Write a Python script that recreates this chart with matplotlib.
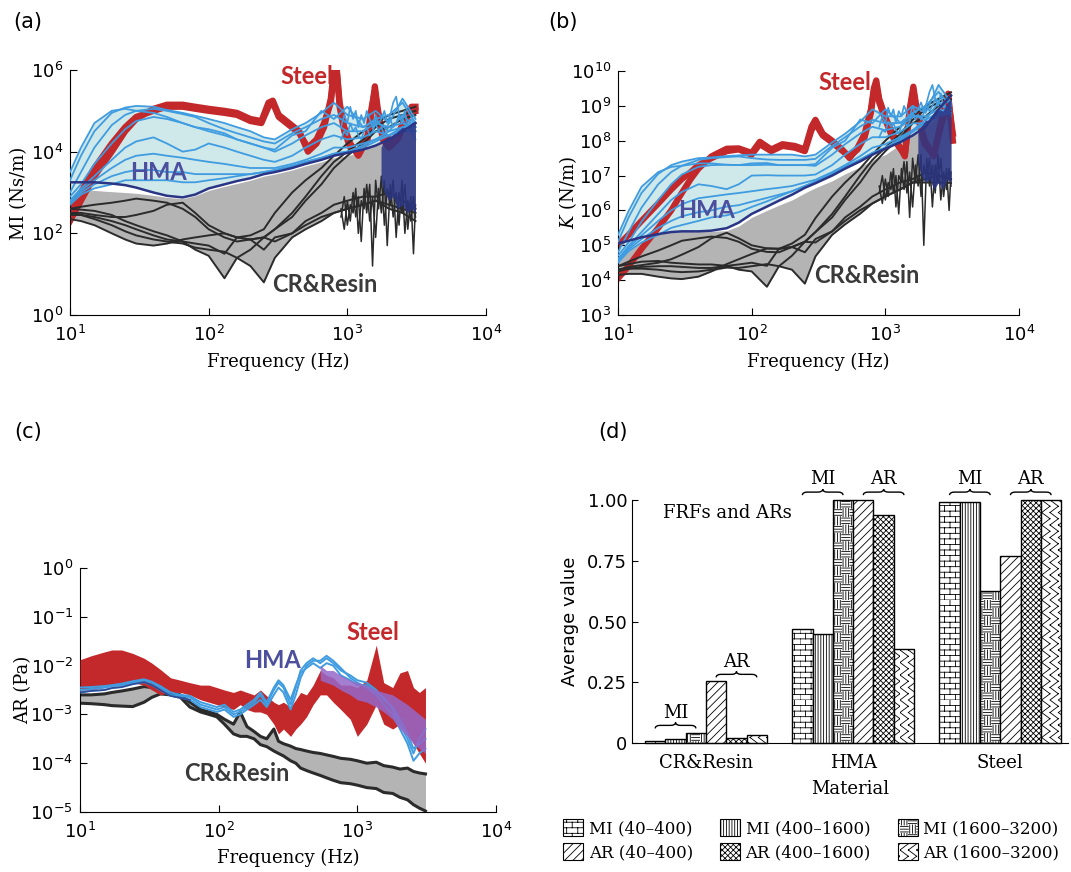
import warnings
import matplotlib
matplotlib.use("Agg")
import matplotlib.pyplot as plt
import numpy as np
from matplotlib import font_manager
from matplotlib import hatch as mhatch
from matplotlib.path import Path
from matplotlib.patches import PathPatch, Patch

warnings.filterwarnings("ignore")

# ---------------- data (log10 of the plotted quantity) ----------------
freq_ab = [10, 12, 15, 20, 25, 30, 40, 50, 65, 80, 100, 130, 160, 200, 250, 300,
           400, 500, 650, 800, 1000, 1300, 1600, 2000, 2500, 3100]
freq_hf = [900, 950, 1000, 1050, 1100, 1150, 1200, 1260, 1320, 1380, 1450, 1520, 1600,
           1680, 1760, 1850, 1940, 2040, 2140, 2250, 2360, 2480, 2600, 2730, 2870, 3000, 3100]
freq_blob = [1750, 1850, 2000, 2150, 2300, 2500, 2700, 2900, 3100]

# (a) mechanical impedance MI
freq_steel_a = [10, 12, 15, 20, 25, 30, 40, 50, 65, 80, 100, 130, 160, 200, 240, 270, 290, 320,
                380, 450, 520, 600, 680, 760, 800, 840, 880, 950, 1050, 1200, 1400, 1500, 1580,
                1650, 1800, 2000, 2300, 2600, 2900, 3100]
mi_steel = [
    [2.3, 2.8, 3.4, 4.0, 4.5, 4.8, 5.05, 5.15, 5.15, 5.1, 5.05, 5.0, 4.95, 4.8, 4.75, 5.2, 5.25, 4.9,
     4.7, 4.5, 4.0, 4.2, 4.6, 5.3, 6.0, 6.0, 5.2, 4.6, 4.2, 3.9, 4.3, 5.0, 5.6, 5.1, 4.3, 4.1, 4.3,
     4.7, 5.1, 5.1],
    [2.6, 3.0, 3.6, 4.2, 4.6, 4.85, 5.0, 5.1, 5.1, 5.05, 5.0, 4.95, 4.9, 4.75, 4.7, 5.1, 5.2, 4.85,
     4.65, 4.45, 4.1, 4.3, 4.7, 5.2, 5.9, 5.95, 5.1, 4.5, 4.1, 4.0, 4.4, 5.1, 5.5, 5.0, 4.4, 4.2, 4.4,
     4.8, 5.0, 5.0],
]
mi_hma = [
    [3.3, 3.9, 4.5, 4.95, 5.08, 5.12, 5.1, 5.02, 4.95, 4.88, 4.8, 4.7, 4.6, 4.5, 4.35, 4.3, 4.55, 4.7, 4.95, 5.2, 4.9, 4.8, 5.0, 4.7, 5.3, 4.8],
    [3.0, 3.5, 4.1, 4.65, 4.9, 5.0, 5.05, 5.0, 4.92, 4.85, 4.7, 4.55, 4.45, 4.35, 4.25, 4.2, 4.45, 4.6, 4.8, 4.9, 4.7, 4.6, 4.75, 4.5, 4.9, 4.6],
    [2.9, 3.2, 3.7, 4.2, 4.55, 4.75, 4.85, 4.8, 4.7, 4.6, 4.5, 4.4, 4.3, 4.2, 4.1, 4.0, 4.2, 4.4, 4.6, 4.7, 4.5, 4.5, 4.7, 4.6, 4.7, 4.5],
    [2.8, 3.1, 3.4, 3.8, 4.1, 4.25, 4.35, 4.2, 4.0, 4.05, 4.2, 4.1, 4.0, 3.9, 3.8, 3.75, 3.9, 4.1, 4.3, 4.4, 4.3, 4.35, 4.5, 4.4, 4.6, 4.5],
    [2.8, 3.05, 3.3, 3.6, 3.8, 3.9, 3.95, 3.9, 3.85, 3.8, 3.75, 3.7, 3.65, 3.6, 3.6, 3.6, 3.7, 3.8, 3.95, 4.1, 4.1, 4.2, 4.3, 4.4, 4.5, 4.5],
    [2.75, 3.0, 3.2, 3.4, 3.5, 3.55, 3.55, 3.5, 3.5, 3.45, 3.45, 3.45, 3.45, 3.45, 3.5, 3.55, 3.65, 3.75, 3.85, 3.95, 4.0, 4.1, 4.25, 4.4, 4.55, 4.6],
    [2.7, 2.95, 3.1, 3.2, 3.3, 3.3, 3.3, 3.3, 3.25, 3.25, 3.3, 3.35, 3.4, 3.45, 3.5, 3.55, 3.65, 3.75, 3.85, 3.95, 4.0, 4.15, 4.3, 4.5, 4.6, 4.7],
    [3.5, 4.1, 4.7, 5.0, 5.05, 5.0, 4.95, 4.85, 4.7, 4.6, 4.55, 4.45, 4.3, 4.2, 4.1, 4.05, 4.4, 4.5, 5.0, 4.8, 5.1, 4.6, 4.8, 4.9, 5.2, 4.7],
]
mi_hma_hf = [
    [4.6, 4.9, 4.7, 5.1, 4.8, 5.0, 4.6, 4.9, 4.7, 5.0, 4.8, 4.6, 4.9, 4.7, 4.8, 5.0, 4.7, 4.9, 5.2, 5.35, 4.9, 4.7, 5.0, 4.6, 4.8, 4.7, 4.6],
    [4.3, 4.5, 4.4, 4.7, 4.5, 4.6, 4.4, 4.3, 4.5, 4.6, 4.4, 4.5, 4.7, 4.5, 4.6, 4.4, 4.6, 4.8, 4.6, 4.7, 4.9, 4.8, 4.7, 4.6, 4.5, 4.4, 4.3],
]
mi_hma_low = [3.25, 3.25, 3.25, 3.22, 3.18, 3.12, 3.0, 2.92, 2.88, 2.95, 3.1, 3.2, 3.28, 3.35, 3.45,
              3.5, 3.6, 3.7, 3.8, 3.9, 3.97, 4.05, 4.15, 4.3, 4.5, 4.7]
mi_cr_top = [3.05, 3.05, 3.05, 3.02, 3.0, 2.98, 2.93, 2.88, 2.85, 2.92, 3.05, 3.15, 3.22, 3.3, 3.4,
             3.45, 3.55, 3.65, 3.75, 3.85, 3.9, 4.0, 4.3, 4.8, 5.0, 5.1]
mi_cr = [
    [2.45, 2.45, 2.4, 2.3, 2.2, 2.1, 1.95, 1.85, 1.8, 1.75, 1.7, 1.5, 1.9, 1.85, 1.6, 1.9, 2.0, 2.2, 2.4, 2.5, 2.6, 2.7, 2.8, 2.6, 2.5, 2.3],
    [2.6, 2.58, 2.55, 2.45, 2.3, 2.2, 2.05, 1.95, 1.8, 1.6, 1.45, 0.9, 1.4, 1.6, 1.9, 1.8, 2.0, 2.3, 2.5, 2.7, 2.8, 2.9, 2.9, 3.0, 2.8, 2.6],
    [2.5, 2.45, 2.35, 2.2, 2.05, 1.95, 1.85, 1.8, 1.75, 1.65, 1.6, 1.55, 1.4, 1.2, 0.8, 1.4, 1.9, 2.1, 2.3, 2.5, 2.6, 2.7, 2.8, 2.7, 2.6, 2.5],
    [2.35, 2.3, 2.2, 2.0, 1.85, 1.75, 1.7, 1.75, 1.85, 1.9, 1.95, 2.0, 1.9, 1.95, 2.1, 2.5, 3.0, 3.3, 3.6, 3.9, 4.2, 4.5, 4.7, 4.9, 5.0, 5.1],
    [2.5, 2.5, 2.45, 2.4, 2.4, 2.45, 2.55, 2.7, 2.75, 2.5, 2.2, 2.0, 1.9, 1.85, 1.9, 2.1, 2.5, 2.9, 3.4, 3.75, 4.0, 4.3, 4.6, 4.8, 4.9, 5.0],
    [2.6, 2.65, 2.7, 2.75, 2.8, 2.85, 2.8, 2.75, 2.6, 2.4, 2.1, 1.9, 1.8, 1.85, 1.9, 2.1, 2.4, 2.8, 3.2, 3.6, 3.9, 4.2, 4.5, 4.6, 4.8, 4.9],
]
mi_cr_hf = [
    [2.6, 2.1, 2.8, 2.3, 3.0, 2.4, 2.9, 1.8, 3.1, 2.5, 3.2, 1.2, 3.3, 2.6, 3.4, 2.2, 3.1, 2.7, 3.3, 1.9, 3.0, 2.5, 3.2, 2.1, 2.9, 1.5, 2.7],
    [2.4, 2.9, 2.2, 2.7, 2.5, 3.1, 2.0, 2.8, 2.6, 3.2, 2.3, 2.9, 1.9, 3.1, 2.5, 3.3, 1.7, 3.2, 2.4, 3.0, 2.2, 3.3, 2.0, 2.8, 2.3, 2.9, 2.4],
]
mi_blob_lo = [3.3, 3.0, 2.8, 2.9, 2.6, 2.7, 2.5, 2.6, 2.5]
mi_blob_hi = [4.1, 4.3, 4.4, 4.35, 4.5, 4.6, 4.55, 4.7, 4.75]

# (b) stiffness K
freq_steel_b = [10, 12, 15, 20, 25, 30, 35, 40, 50, 65, 80, 100, 115, 140, 170, 210, 250, 280, 300,
                340, 400, 480, 540, 620, 700, 780, 820, 855, 900, 1000, 1100, 1250, 1400, 1520,
                1620, 1720, 1970, 2300, 2600, 2950, 3200]
k_steel = [
    [4.05, 4.4, 4.9, 5.5, 6.0, 6.5, 6.9, 7.2, 7.55, 7.77, 7.78, 7.65, 7.97, 7.75, 7.9, 7.85, 7.75, 8.4,
     8.6, 8.2, 8.0, 7.73, 7.5, 7.8, 8.2, 8.9, 9.5, 9.73, 9.2, 8.68, 8.3, 7.9, 7.55, 8.9, 9.55, 8.9,
     8.0, 7.55, 8.5, 9.35, 8.0],
    [5.0, 5.3, 5.7, 6.2, 6.6, 6.9, 7.1, 7.3, 7.5, 7.7, 7.75, 7.6, 7.9, 7.7, 7.85, 7.8, 7.7, 8.3, 8.5,
     8.15, 7.95, 7.7, 7.55, 7.75, 8.1, 8.8, 9.4, 9.6, 9.1, 8.6, 8.2, 7.85, 7.6, 8.8, 9.45, 8.8, 7.9,
     7.6, 8.4, 9.2, 8.2],
]
k_hma = [
    [5.1, 5.8, 6.5, 7.05, 7.3, 7.4, 7.5, 7.52, 7.56, 7.58, 7.6, 7.6, 7.6, 7.6, 7.55, 7.6, 7.95, 8.2, 8.55, 8.9, 8.7, 8.7, 9.0, 8.8, 9.6, 9.1],
    [4.8, 5.38, 6.08, 6.75, 7.1, 7.28, 7.45, 7.5, 7.53, 7.55, 7.5, 7.46, 7.45, 7.45, 7.45, 7.48, 7.85, 8.1, 8.41, 8.6, 8.5, 8.51, 8.75, 8.6, 9.1, 8.89],
    [4.7, 5.08, 5.68, 6.3, 6.75, 7.03, 7.25, 7.3, 7.31, 7.3, 7.3, 7.31, 7.3, 7.3, 7.3, 7.28, 7.6, 7.9, 8.21, 8.4, 8.3, 8.41, 8.7, 8.7, 8.9, 8.79],
    [4.6, 4.98, 5.38, 5.9, 6.3, 6.53, 6.75, 6.7, 6.61, 6.75, 7.0, 7.01, 7.0, 7.0, 7.0, 7.03, 7.3, 7.6, 7.91, 8.1, 8.1, 8.26, 8.5, 8.5, 8.8, 8.79],
    [4.6, 4.93, 5.28, 5.7, 6.0, 6.18, 6.35, 6.4, 6.46, 6.5, 6.55, 6.61, 6.65, 6.7, 6.8, 6.88, 7.1, 7.3, 7.56, 7.8, 7.9, 8.11, 8.3, 8.5, 8.7, 8.79],
    [4.55, 4.88, 5.18, 5.5, 5.7, 5.83, 5.95, 6.0, 6.11, 6.15, 6.25, 6.36, 6.45, 6.55, 6.7, 6.83, 7.05, 7.25, 7.46, 7.65, 7.8, 8.01, 8.25, 8.5, 8.75, 8.89],
    [4.5, 4.83, 5.08, 5.3, 5.5, 5.58, 5.7, 5.8, 5.86, 5.95, 6.1, 6.26, 6.4, 6.55, 6.7, 6.83, 7.05, 7.25, 7.46, 7.65, 7.8, 8.06, 8.3, 8.6, 8.8, 8.99],
    [5.3, 5.98, 6.68, 7.1, 7.25, 7.28, 7.35, 7.35, 7.31, 7.3, 7.35, 7.36, 7.3, 7.3, 7.3, 7.33, 7.8, 8.0, 8.61, 8.5, 8.9, 8.51, 8.8, 9.0, 9.4, 8.99],
]
k_hma_hf = [
    [8.4, 8.7, 8.5, 8.95, 8.7, 8.9, 8.5, 8.85, 8.7, 9.0, 8.8, 8.65, 9.0, 8.8, 8.9, 9.1, 8.85, 9.1, 9.4, 9.6, 9.2, 9.0, 9.35, 8.95, 9.2, 9.1, 9.05],
    [8.1, 8.3, 8.25, 8.55, 8.4, 8.5, 8.3, 8.2, 8.45, 8.6, 8.4, 8.55, 8.8, 8.6, 8.75, 8.6, 8.8, 9.0, 8.85, 9.0, 9.2, 9.15, 9.05, 9.0, 8.9, 8.85, 8.7],
]
k_hma_low = [5.05, 5.13, 5.23, 5.32, 5.38, 5.4, 5.4, 5.42, 5.49, 5.65, 5.9, 6.11, 6.28, 6.45, 6.65,
             6.78, 7.0, 7.2, 7.41, 7.6, 7.77, 7.96, 8.15, 8.4, 8.9, 9.3]
k_cr_top = [5.3, 5.35, 5.4, 5.4, 5.4, 5.4, 5.4, 5.4, 5.42, 5.55, 5.8, 6.0, 6.15, 6.3, 6.5, 6.65,
            6.85, 7.05, 7.25, 7.45, 7.6, 7.9, 8.4, 9.0, 9.2, 9.35]
k_cr = [
    [4.25, 4.33, 4.38, 4.4, 4.4, 4.38, 4.35, 4.35, 4.41, 4.45, 4.5, 4.41, 4.9, 4.95, 4.8, 5.18, 5.4, 5.7, 6.01, 6.2, 6.4, 6.61, 6.8, 6.9, 7.0, 6.9],
    [4.4, 4.46, 4.53, 4.55, 4.5, 4.48, 4.45, 4.45, 4.41, 4.3, 4.25, 3.81, 4.4, 4.7, 5.1, 5.08, 5.4, 5.8, 6.11, 6.4, 6.6, 6.81, 6.9, 7.1, 7.0, 6.89],
    [4.3, 4.33, 4.33, 4.3, 4.25, 4.23, 4.25, 4.3, 4.36, 4.35, 4.4, 4.46, 4.4, 4.3, 3.9, 4.68, 5.3, 5.6, 5.91, 6.2, 6.4, 6.61, 6.8, 6.8, 6.8, 6.79],
    [4.15, 4.18, 4.18, 4.1, 4.05, 4.03, 4.1, 4.25, 4.46, 4.6, 4.75, 4.91, 4.9, 5.05, 5.3, 5.78, 6.4, 6.8, 7.21, 7.6, 8.0, 8.41, 8.7, 9.0, 9.2, 9.39],
    [4.3, 4.38, 4.43, 4.5, 4.6, 4.73, 4.95, 5.2, 5.36, 5.2, 5.0, 4.91, 4.9, 4.95, 5.1, 5.38, 5.9, 6.4, 7.01, 7.45, 7.8, 8.21, 8.6, 8.9, 9.1, 9.29],
    [4.4, 4.53, 4.68, 4.85, 5.0, 5.13, 5.2, 5.25, 5.21, 5.1, 4.9, 4.81, 4.8, 4.95, 5.1, 5.38, 5.8, 6.3, 6.81, 7.3, 7.7, 8.11, 8.5, 8.7, 9.0, 9.19],
]
k_cr_hf = [
    [6.7, 6.2, 6.9, 6.4, 7.1, 6.5, 7.0, 5.9, 7.2, 6.6, 7.4, 5.8, 7.5, 6.8, 7.6, 6.4, 7.3, 6.9, 7.5, 6.1, 7.3, 6.8, 7.5, 6.4, 7.2, 6.0, 7.1],
    [6.5, 7.0, 6.3, 6.8, 6.6, 7.2, 6.1, 7.0, 6.8, 7.4, 6.5, 7.1, 6.1, 7.3, 6.7, 7.6, 5.0, 7.5, 6.7, 7.3, 6.5, 7.6, 6.3, 7.1, 6.6, 7.2, 6.7],
]
k_blob_lo = [7.4, 7.0, 6.8, 6.9, 6.6, 6.8, 6.6, 6.9, 6.8]
k_blob_hi = [8.2, 8.4, 8.6, 8.55, 8.8, 8.9, 8.85, 9.1, 9.2]

# (c) acoustic response AR
freq_c = [10, 12, 15, 17, 20, 24, 29, 33, 38, 45, 53, 62, 74, 85, 97, 110, 128, 143, 160, 180,
          200, 222, 250, 270, 293, 330, 360, 390, 430, 480, 540, 600, 670, 760, 890, 1000, 1170,
          1370, 1550, 1800, 2030, 2300, 2540, 2800, 3100]
ar_steel_hi = [-1.88, -1.8, -1.72, -1.68, -1.68, -1.75, -1.85, -1.95, -2.08, -2.25, -2.3, -2.35, -2.4,
               -2.4, -2.45, -2.5, -2.55, -2.5, -2.55, -2.6, -2.5, -2.62, -2.75, -2.8, -2.75, -2.85,
               -2.7, -2.55, -2.6, -2.4, -2.1, -2.2, -2.25, -2.4, -2.4, -2.45, -2.3, -1.58, -2.35,
               -2.45, -2.15, -2.1, -2.45, -2.55, -2.45]
ar_steel_lo = [-2.5, -2.5, -2.45, -2.42, -2.4, -2.35, -2.4, -2.5, -2.6, -2.55, -2.55, -2.6, -2.7,
               -2.75, -2.8, -2.85, -2.9, -2.8, -2.9, -2.95, -2.95, -3.0, -3.2, -3.4, -3.3, -3.45,
               -3.3, -3.2, -3.05, -2.8, -2.6, -2.6, -2.75, -2.9, -3.1, -3.45, -3.2, -2.8, -3.2,
               -3.3, -3.2, -3.4, -3.6, -3.8, -4.0]
ar_hma = [
    [-2.5, -2.48, -2.45, -2.42, -2.4, -2.35, -2.3, -2.35, -2.45, -2.6, -2.62, -2.65, -2.8, -2.85,
     -2.9, -2.85, -3.0, -2.95, -2.85, -2.75, -2.6, -2.8, -2.5, -2.35, -2.45, -2.8, -2.45, -2.1,
     -1.95, -1.85, -1.95, -1.85, -1.95, -2.1, -2.2, -2.3, -2.35, -2.5, -2.7, -2.85, -3.1, -3.4,
     -3.7, -3.6, -3.5],
    [-2.55, -2.52, -2.5, -2.46, -2.44, -2.38, -2.34, -2.4, -2.5, -2.62, -2.66, -2.7, -2.85, -2.9,
     -2.95, -2.9, -3.05, -3.0, -2.9, -2.8, -2.7, -2.85, -2.6, -2.45, -2.55, -2.9, -2.6, -2.25,
     -2.0, -1.9, -1.9, -1.8, -1.9, -2.05, -2.25, -2.35, -2.45, -2.6, -2.8, -3.0, -3.3, -3.6,
     -3.95, -3.8, -3.7],
    [-2.45, -2.44, -2.42, -2.4, -2.37, -2.32, -2.28, -2.33, -2.42, -2.55, -2.6, -2.62, -2.75,
     -2.8, -2.85, -2.8, -2.95, -2.9, -2.8, -2.7, -2.55, -2.75, -2.45, -2.3, -2.4, -2.7, -2.4,
     -2.15, -2.05, -1.95, -2.05, -1.95, -2.0, -2.2, -2.3, -2.4, -2.4, -2.55, -2.65, -2.9, -3.2,
     -3.5, -3.8, -3.5, -3.3],
]
freq_overlap = [540, 600, 670, 760, 890, 1000, 1170, 1370, 1550, 1800, 2030, 2300, 2540, 3100]
ar_overlap_hi = [-2.0, -2.1, -2.1, -2.2, -2.3, -2.35, -2.4, -2.5, -2.55, -2.6, -2.7, -2.8, -2.9, -3.1]
ar_overlap_lo = [-2.3, -2.35, -2.4, -2.5, -2.6, -2.7, -2.75, -2.85, -2.95, -3.1, -3.3, -3.45, -3.6, -3.8]
ar_cr_hi = [-2.6, -2.6, -2.58, -2.55, -2.52, -2.48, -2.43, -2.45, -2.5, -2.55, -2.6, -2.75, -2.9,
            -2.95, -3.0, -3.1, -3.2, -2.95, -3.25, -3.35, -3.45, -3.5, -3.3, -3.55, -3.6, -3.65,
            -3.7, -3.72, -3.75, -3.78, -3.8, -3.83, -3.86, -3.9, -3.92, -3.95, -4.0, -3.98, -4.05,
            -4.08, -4.12, -4.1, -4.17, -4.2, -4.22]
ar_cr_lo = [-2.77, -2.78, -2.8, -2.82, -2.83, -2.84, -2.75, -2.65, -2.58, -2.6, -2.65, -2.85, -2.95,
            -3.0, -3.05, -3.2, -3.4, -3.45, -3.45, -3.5, -3.62, -3.66, -3.75, -3.8, -3.85, -3.95,
            -4.0, -4.1, -4.15, -4.2, -4.25, -4.3, -4.35, -4.4, -4.42, -4.45, -4.5, -4.52, -4.6,
            -4.62, -4.7, -4.75, -4.85, -4.92, -4.98]

# (d) normalised averages
materials = ["CR&Resin", "HMA", "Steel"]
series_labels = ["MI (40–400)", "MI (400–1600)", "MI (1600–3200)",
                 "AR (40–400)", "AR (400–1600)", "AR (1600–3200)"]
mi_40_400 = [0.01, 0.47, 0.99]
mi_400_1600 = [0.015, 0.45, 0.99]
mi_1600_3200 = [0.04, 1.0, 0.625]
ar_40_400 = [0.255, 1.0, 0.77]
ar_400_1600 = [0.022, 0.94, 1.0]
ar_1600_3200 = [0.032, 0.385, 1.0]


# ---------------- extra hatch patterns: bricks, line blocks, zigzags ----------------
class BrickHatch(mhatch.HatchPatternBase):
    def __init__(self, hatch, density):
        self.n = hatch.count("b") * density
        self.m = self.n // 2
        self.num_vertices = 2 * self.n + 2 * self.n * self.m

    def set_vertices_and_codes(self, vertices, codes):
        n, m = self.n, self.m
        v = []
        for k in range(n):
            y = k / n
            v += [(0, y), (1, y)]
            off = 0.5 / m if k % 2 else 0.0
            for j in range(m):
                v += [(j / m + off, y), (j / m + off, y + 1 / n)]
        vertices[:] = v
        codes[0::2] = Path.MOVETO
        codes[1::2] = Path.LINETO


class BlockHatch(mhatch.HatchPatternBase):
    def __init__(self, hatch, density):
        self.c = hatch.count("k") * density
        self.num_vertices = 6 * self.c * self.c

    def set_vertices_and_codes(self, vertices, codes):
        c = self.c
        v = []
        for i in range(c):
            for j in range(c):
                x0, y0 = i / c, j / c
                for t in range(3):
                    d = (t + 0.5) / (3 * c)
                    if (i + j) % 2 == 0:
                        v += [(x0, y0 + d), (x0 + 1 / c, y0 + d)]
                    else:
                        v += [(x0 + d, y0), (x0 + d, y0 + 1 / c)]
        vertices[:] = v
        codes[0::2] = Path.MOVETO
        codes[1::2] = Path.LINETO


class ZigzagHatch(mhatch.HatchPatternBase):
    def __init__(self, hatch, density):
        self.m = hatch.count("z") * density
        self.p = max(self.m * 2 // 3, 1) if self.m else 0
        self.num_vertices = 4 * self.m * self.p

    def set_vertices_and_codes(self, vertices, codes):
        w, h = 1 / self.m, 1 / self.p
        v = []
        for j in range(self.m):
            for k in range(self.p):
                x0, y0 = j * w, k * h
                v += [(x0, y0), (x0 + w, y0 + h / 2), (x0 + w, y0 + h / 2), (x0, y0 + h)]
        vertices[:] = v
        codes[0::2] = Path.MOVETO
        codes[1::2] = Path.LINETO


if hasattr(mhatch, "_hatch_types"):
    mhatch._hatch_types.extend([BrickHatch, BlockHatch, ZigzagHatch])
    hatches = ["bbb", "||||||", "kk", "////", "xxxxxx", "zz"]
else:
    hatches = ["+++", "||||||", "||||--", "////", "xxxxxx", "xx"]

# ---------------- style ----------------
RED = "#c3282b"
BLUE = "#3f9ce0"
CYAN = "#cfe8ea"
NAVY = "#2b3585"
BLACK = "#2b2b2b"
GRAY = "#b4b4b4"
PURPLE = "#9468c8"

plt.rcParams["font.family"] = "DejaVu Sans"
plt.rcParams["mathtext.fontset"] = "custom"
plt.rcParams["mathtext.rm"] = "DejaVu Serif"
plt.rcParams["mathtext.it"] = "DejaVu Serif:italic"
plt.rcParams["hatch.linewidth"] = 0.6
SERIF = "DejaVu Serif"

installed = {f.name for f in font_manager.fontManager.ttflist}
LABEL_FONT = ["Lato", "DejaVu Sans"] if "Lato" in installed else ["DejaVu Sans"]

W, H = 1071, 872
fig = plt.figure(figsize=(W / 100, H / 100), dpi=100)


def frac_box(x0, y0, x1, y1):
    return [x0 / W, 1 - y1 / H, (x1 - x0) / W, (y1 - y0) / H]


def ftext(x, y, s, **kw):
    fig.text(x / W, 1 - y / H, s, ha="center", va="center", **kw)


def style_log_axes(ax, ylim, yticks):
    ax.set_xscale("log")
    ax.set_yscale("log")
    ax.set_xlim(10, 1e4)
    ax.set_ylim(*ylim)
    ax.set_xticks([10, 100, 1000, 10000])
    ax.set_yticks(yticks)
    ax.minorticks_off()
    for s in ["top", "right"]:
        ax.spines[s].set_visible(False)
    ax.tick_params(direction="in", length=5, labelsize=13)
    ax.tick_params(axis="x", pad=7)
    ax.tick_params(axis="y", pad=5)


def draw_frf(ax, f_steel, steel, hma, hma_hf, hma_low, cr_top, cr, cr_hf, blob_lo, blob_hi):
    F = np.array(freq_ab)
    hma = np.array(hma)
    cr = np.array(cr)
    low = np.minimum(np.array(hma_low), hma.min(axis=0))
    ax.fill_between(F, 10 ** cr.min(axis=0), 10 ** np.array(cr_top), color=GRAY, lw=0, zorder=1)
    ax.fill_between(F, 10 ** low, 10 ** hma.max(axis=0), color=CYAN, lw=0, zorder=1)
    for s in steel:
        ax.plot(f_steel, 10 ** np.array(s), color=RED, lw=4.5, zorder=2, solid_joinstyle="round")
    for c in cr:
        ax.plot(F, 10 ** c, color=BLACK, lw=1.4, zorder=3)
    for c in cr_hf:
        ax.plot(freq_hf, 10 ** np.array(c), color=BLACK, lw=1.1, zorder=3)
    for h in hma:
        ax.plot(F, 10 ** h, color=BLUE, lw=1.3, zorder=4)
    for h in hma_hf:
        ax.plot(freq_hf, 10 ** np.array(h), color=BLUE, lw=1.2, zorder=4)
    ax.plot(F, 10 ** np.array(hma_low), color=NAVY, lw=1.8, zorder=5)
    ax.fill_between(freq_blob, 10 ** np.array(blob_lo), 10 ** np.array(blob_hi),
                    color=NAVY, alpha=0.85, lw=0, zorder=5)


# ---------------- (a) ----------------
ax_a = fig.add_axes(frac_box(70, 70, 486, 315))
draw_frf(ax_a, freq_steel_a, mi_steel, mi_hma, mi_hma_hf, mi_hma_low, mi_cr_top, mi_cr, mi_cr_hf,
         mi_blob_lo, mi_blob_hi)
style_log_axes(ax_a, (1, 1e6), [1, 1e2, 1e4, 1e6])

# ---------------- (b) ----------------
ax_b = fig.add_axes(frac_box(618, 71, 1019, 315))
draw_frf(ax_b, freq_steel_b, k_steel, k_hma, k_hma_hf, k_hma_low, k_cr_top, k_cr, k_cr_hf,
         k_blob_lo, k_blob_hi)
style_log_axes(ax_b, (1e3, 1e10), [10.0 ** e for e in range(3, 11)])

# ---------------- (c) ----------------
ax_c = fig.add_axes(frac_box(80, 568, 496, 812))
Fc = np.array(freq_c)
ax_c.fill_between(Fc, 10 ** np.array(ar_cr_lo), 10 ** np.array(ar_cr_hi), color=GRAY, lw=0, zorder=1)
ax_c.plot(Fc, 10 ** np.array(ar_cr_hi), color=BLACK, lw=2.2, zorder=2)
ax_c.plot(Fc, 10 ** np.array(ar_cr_lo), color=BLACK, lw=2.2, zorder=2)
ax_c.fill_between(Fc, 10 ** np.array(ar_steel_lo), 10 ** np.array(ar_steel_hi), color=RED, lw=0, zorder=3)
for h in ar_hma:
    ax_c.plot(Fc, 10 ** np.array(h), color=BLUE, lw=1.4, zorder=4)
ax_c.plot(Fc[:12], 10 ** np.array(ar_hma[1][:12]), color=NAVY, lw=1.2, alpha=0.8, zorder=5)
ax_c.fill_between(freq_overlap, 10 ** np.array(ar_overlap_lo), 10 ** np.array(ar_overlap_hi),
                  color=PURPLE, alpha=0.85, lw=0, zorder=5)
style_log_axes(ax_c, (1e-5, 1), [10.0 ** e for e in range(-5, 1)])

# material labels inside the curve panels
lab = dict(family=LABEL_FONT, fontweight="bold", fontsize=17)
ftext(307, 77, "Steel", color=RED, **lab)
ftext(158, 172, "HMA", color="#4c4f9e", **lab)
ftext(325, 285, "CR&Resin", color="#3a3a3a", **lab)
ftext(845, 83, "Steel", color=RED, **lab)
ftext(707, 210, "HMA", color="#4c4f9e", **lab)
ftext(867, 275, "CR&Resin", color="#3a3a3a", **lab)
ftext(373, 632, "Steel", color=RED, **lab)
ftext(272, 660, "HMA", color="#4c4f9e", **lab)
ftext(237, 773, "CR&Resin", color="#3a3a3a", **lab)

# axis titles
ax_font = dict(family=SERIF, fontsize=13)
ftext(278, 362, "Frequency (Hz)", **ax_font)
ftext(818, 362, "Frequency (Hz)", **ax_font)
ftext(288, 858, "Frequency (Hz)", **ax_font)
ftext(19, 193, "MI (Ns/m)", rotation=90, **ax_font)
ftext(568, 193, "$K$ (N/m)", rotation=90, **ax_font)
ftext(23, 690, "AR (Pa)", rotation=90, **ax_font)

# ---------------- (d) ----------------
ax_d = fig.add_axes(frac_box(632, 500, 1068, 743))
values = [mi_40_400, mi_400_1600, mi_1600_3200, ar_40_400, ar_400_1600, ar_1600_3200]
bw = 0.138
x = np.arange(len(materials))
handles = []
for i, (vals, hatch) in enumerate(zip(values, hatches)):
    ax_d.bar(x + (i - 2.5) * bw, vals, bw, facecolor="white", edgecolor="black",
             hatch=hatch, lw=1.0, clip_on=False, zorder=2)
    handles.append(Patch(facecolor="white", edgecolor="black", hatch=hatch, lw=0.8))
ax_d.set_xlim(-0.503, 2.46)
ax_d.set_ylim(0, 1.0)
ax_d.set_yticks([0, 0.25, 0.5, 0.75, 1.0])
ax_d.set_yticklabels(["0", "0.25", "0.50", "0.75", "1.00"])
ax_d.set_xticks(x)
ax_d.set_xticklabels(materials, family=SERIF, fontsize=13)
ax_d.tick_params(axis="x", length=0, pad=8)
ax_d.tick_params(axis="y", direction="in", length=4, labelsize=13)
for s in ["top", "right"]:
    ax_d.spines[s].set_visible(False)
ax_d.set_ylabel("Average value", fontsize=13, labelpad=6)
ax_d.set_xlabel("Material", family=SERIF, fontsize=13, labelpad=6)
ax_d.text(-0.29, 0.945, "FRFs and ARs", family=SERIF, fontsize=13, va="center")


def brace(ax, x0, x1, yb, h):
    xm = (x0 + x1) / 2
    q = (x1 - x0) * 0.12
    ym = yb + h * 0.5
    verts = [(x0, yb), (x0, ym), (x0 + q, ym), (xm - q, ym), (xm, ym), (xm, yb + h),
             (xm, ym), (xm + q, ym), (x1 - q, ym), (x1, ym), (x1, yb)]
    codes = [Path.MOVETO, Path.CURVE3, Path.CURVE3, Path.LINETO, Path.CURVE3, Path.CURVE3,
             Path.CURVE3, Path.CURVE3, Path.LINETO, Path.CURVE3, Path.CURVE3]
    ax.add_patch(PathPatch(Path(verts, codes), fill=False, lw=1.0, clip_on=False))


brace_base = [(0.06, 0.27), (1.02, 1.02), (1.02, 1.02)]
for g, (mi_y, ar_y) in enumerate(brace_base):
    for k, yb in enumerate([mi_y, ar_y]):
        x0 = g + (3 * k - 2.5) * bw
        x1 = g + (3 * k - 0.5) * bw
        brace(ax_d, x0, x1, yb, 0.025)
        ax_d.text((x0 + x1) / 2, yb + 0.065, ["MI", "AR"][k], family=SERIF, fontsize=13,
                  ha="center", va="center", clip_on=False)

order = [0, 3, 1, 4, 2, 5]
fig.legend([handles[i] for i in order], [series_labels[i] for i in order], ncol=3,
           loc="upper left", bbox_to_anchor=(563 / W, 1 - 819 / H), frameon=False,
           prop=dict(family=SERIF, size=12), handlelength=1.2, handleheight=1.2,
           columnspacing=1.6, handletextpad=0.35, labelspacing=0.35, borderaxespad=0,
           borderpad=0)

# panel letters
for px, py, s in [(28, 22, "(a)"), (563, 22, "(b)"), (28, 432, "(c)"), (613, 432, "(d)")]:
    ftext(px, py, s, fontsize=15)

fig.savefig("out.png", dpi=100)
